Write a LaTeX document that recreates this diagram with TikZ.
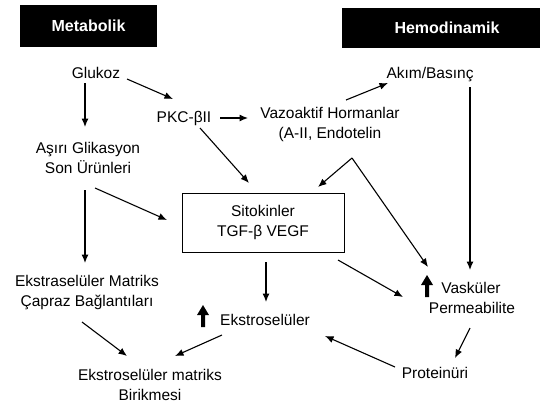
\documentclass[tikz,border=0pt]{standalone}
\usepackage{fontspec}
\setmainfont{Liberation Sans}
\usetikzlibrary{arrows.meta,calc}
\tikzset{
  lbl/.style={font=\fontsize{15.5}{20}\selectfont, align=center, inner sep=0pt},
  hdr/.style={fill=black, text=white, font=\fontsize{16}{18}\selectfont\bfseries, inner sep=0pt, minimum height=42pt},
  arr/.style={line width=1.1pt, -{Latex[length=8.5pt,width=7pt]}},
  upar/.style={fill=black},
}
\begin{document}
\begin{tikzpicture}[x=1pt,y=-1pt]
\useasboundingbox (0,0) rectangle (540,408);
% headers
\node[hdr, minimum width=137pt] (met) at (88.5,26) {Metabolik};
\node[hdr, minimum width=198pt, minimum height=40pt] (hem) at (441,28) {\hspace*{12pt}Hemodinamik};
% nodes
\node[lbl] (glukoz) at (96,73) {Glukoz};
\node[lbl] (pkc) at (184,118) {PKC-βII};
\node[lbl] (vazo) at (330,124) {Vazoaktif Hormanlar\\(A-II, Endotelin};
\node[lbl] (akim) at (430,75) {Akım/Basınç};
\node[lbl] (asiri) at (88,158) {Aşırı Glikasyon\\Son Ürünleri};
\node[draw, line width=1pt, minimum width=162pt, minimum height=59pt, lbl] (sito) at (263,222.5) {Sitokinler\\TGF-β VEGF};
\node[lbl] (ecm) at (87,293) {Ekstraselüler Matriks\\Çapraz Bağlantıları};
\node[lbl] (ekstro) at (265,320) {Ekstroselüler};
\node[lbl] (birik) at (150,385) {Ekstroselüler matriks\\Birikmesi};
\node[lbl] (vask) at (472,298) {\hspace*{-2pt}Vasküler\\Permeabilite};
\node[lbl] (prot) at (435,373) {Proteinüri};
\coordinate (apex) at (352,158);
% thick up arrows
\fill[upar] ($(ekstro)+(-64,7)$) -- ++(4,0) -- ++(0,-12) -- ++(4,0) -- ++(-6,-10) -- ++(-6,10) -- ++(4,0) -- cycle;
\fill[upar] ($(vask)+(-47,-1)$) -- ++(4,0) -- ++(0,-12) -- ++(4,0) -- ++(-6,-10) -- ++(-6,10) -- ++(4,0) -- cycle;
% connectors
\draw[arr] ($(glukoz)+(-11,10)$) -- ($(asiri)+(-3,-31)$);
\draw[arr] ($(glukoz)+(31,6)$) -- ($(pkc)+(-11,-19)$);
\draw[arr] ($(pkc)+(36,0)$) -- ($(vazo)+(-82,-6)$);
\draw[arr] ($(pkc)+(16,10)$) -- ($(sito)+(-14,-39.5)$);
\draw[arr] ($(vazo)+(16,-24)$) -- ($(akim)+(-42,8)$);
\draw[arr] (apex) -- ($(sito)+(55,-35.5)$);
\draw[arr] (apex) -- ($(vask)+(-44,-31)$);
\draw[arr] ($(asiri)+(-3,32)$) -- ($(ecm)+(-2,-30)$);
\draw[arr] ($(asiri)+(7,30)$) -- ($(sito)+(-96,-2.5)$);
\draw[arr] ($(sito)+(3,39.5)$) -- ($(ekstro)+(1,-18)$);
\draw[arr] ($(sito)+(75,37.5)$) -- ($(vask)+(-69,-1)$);
\draw[arr] ($(akim)+(40,12)$) -- ($(vask)+(-2,-28)$);
\draw[arr] ($(vask)+(-2,30)$) -- ($(prot)+(20,-15)$);
\draw[arr] ($(prot)+(-40,-6)$) -- ($(ekstro)+(60,16)$);
\draw[arr] ($(ecm)+(-5,29)$) -- ($(birik)+(-23,-29)$);
\draw[arr] ($(ekstro)+(-43,15)$) -- ($(birik)+(25,-29)$);
\end{tikzpicture}
\end{document}
